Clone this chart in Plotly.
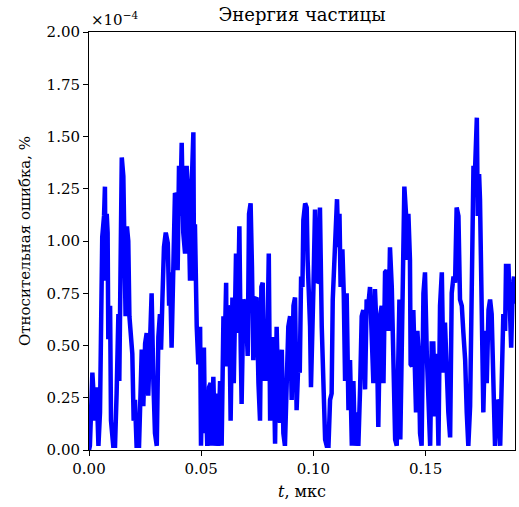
import plotly.graph_objects as go

# time, microseconds
t_us = [
    0.0000, 0.0004, 0.0015, 0.0027, 0.0034, 0.0042, 0.0049, 0.0056, 0.0059, 0.0067,
    0.0071, 0.0074, 0.0079, 0.0083, 0.0086, 0.0094, 0.0098, 0.0108, 0.0116, 0.0123,
    0.0131, 0.0135, 0.0141, 0.0146, 0.0153, 0.0157, 0.0163, 0.0169, 0.0175, 0.0180,
    0.0186, 0.0193, 0.0199, 0.0205, 0.0212, 0.0223, 0.0235, 0.0242, 0.0250, 0.0257,
    0.0264, 0.0272, 0.0279, 0.0287, 0.0294, 0.0302, 0.0309, 0.0316, 0.0321, 0.0327,
    0.0334, 0.0342, 0.0351, 0.0357, 0.0361, 0.0368, 0.0376, 0.0383, 0.0391, 0.0395,
    0.0401, 0.0406, 0.0413, 0.0420, 0.0428, 0.0435, 0.0443, 0.0450, 0.0458, 0.0465,
    0.0468, 0.0472, 0.0480, 0.0487, 0.0495, 0.0499, 0.0507, 0.0512, 0.0517, 0.0521,
    0.0527, 0.0535, 0.0542, 0.0547, 0.0554, 0.0561, 0.0569, 0.0576, 0.0584, 0.0591,
    0.0599, 0.0603, 0.0611, 0.0613, 0.0618, 0.0625, 0.0631, 0.0639, 0.0645, 0.0651,
    0.0655, 0.0662, 0.0670, 0.0676, 0.0680, 0.0688, 0.0695, 0.0703, 0.0707, 0.0713,
    0.0720, 0.0726, 0.0732, 0.0740, 0.0747, 0.0755, 0.0762, 0.0768, 0.0774, 0.0780,
    0.0784, 0.0792, 0.0801, 0.0807, 0.0814, 0.0821, 0.0829, 0.0836, 0.0844, 0.0851,
    0.0859, 0.0866, 0.0873, 0.0881, 0.0888, 0.0896, 0.0903, 0.0911, 0.0918, 0.0925,
    0.0933, 0.0939, 0.0945, 0.0951, 0.0955, 0.0963, 0.0970, 0.0974, 0.0980, 0.0985,
    0.0989, 0.0995, 0.1000, 0.1007, 0.1015, 0.1022, 0.1029, 0.1037, 0.1044, 0.1052,
    0.1059, 0.1067, 0.1074, 0.1081, 0.1086, 0.1093, 0.1099, 0.1105, 0.1111, 0.1116,
    0.1121, 0.1129, 0.1135, 0.1141, 0.1148, 0.1156, 0.1163, 0.1171, 0.1178, 0.1185,
    0.1193, 0.1200, 0.1208, 0.1215, 0.1222, 0.1230, 0.1237, 0.1245, 0.1252, 0.1260,
    0.1267, 0.1274, 0.1282, 0.1289, 0.1297, 0.1304, 0.1312, 0.1319, 0.1326, 0.1334,
    0.1341, 0.1349, 0.1356, 0.1364, 0.1371, 0.1378, 0.1383, 0.1387, 0.1393, 0.1401,
    0.1405, 0.1413, 0.1419, 0.1423, 0.1430, 0.1433, 0.1439, 0.1445, 0.1451, 0.1457,
    0.1463, 0.1469, 0.1475, 0.1482, 0.1490, 0.1497, 0.1505, 0.1512, 0.1520, 0.1527,
    0.1534, 0.1542, 0.1549, 0.1557, 0.1564, 0.1572, 0.1579, 0.1586, 0.1594, 0.1601,
    0.1609, 0.1616, 0.1624, 0.1631, 0.1638, 0.1646, 0.1653, 0.1661, 0.1668, 0.1676,
    0.1683, 0.1690, 0.1698, 0.1705, 0.1713, 0.1720, 0.1728, 0.1732, 0.1738, 0.1742,
    0.1747, 0.1751, 0.1757, 0.1765, 0.1772, 0.1780, 0.1787, 0.1794, 0.1802, 0.1809,
    0.1817, 0.1824, 0.1832, 0.1839, 0.1846, 0.1854, 0.1858, 0.1869, 0.1876, 0.1881,
    0.1888, 0.1894, 0.1898,
]

# relative energy error, units of 1e-4 %
err_e4 = [
    0.00, 0.02, 0.37, 0.14, 0.30, 0.02, 0.18, 0.72, 1.02, 1.12,
    1.26, 0.81, 1.13, 1.04, 0.53, 0.69, 0.14, 0.02, 0.02, 0.27,
    0.65, 0.33, 0.88, 1.40, 1.31, 1.00, 0.64, 1.07, 1.00, 0.64,
    0.53, 0.46, 0.14, 0.24, 0.02, 0.02, 0.48, 0.21, 0.51, 0.56,
    0.26, 0.46, 0.75, 0.32, 0.08, 0.02, 0.54, 0.65, 0.48, 0.72,
    0.97, 1.04, 0.99, 0.69, 0.85, 0.49, 0.91, 1.23, 1.21, 0.86,
    1.36, 1.12, 1.47, 1.04, 0.94, 1.36, 1.20, 0.81, 1.28, 1.52,
    0.81, 1.08, 0.59, 0.41, 0.59, 0.02, 0.46, 0.49, 0.08, 0.24,
    0.02, 0.30, 0.32, 0.02, 0.35, 0.02, 0.27, 0.02, 0.33, 0.02,
    0.64, 0.40, 0.80, 0.40, 0.69, 0.67, 0.14, 0.73, 0.32, 0.77,
    0.94, 0.56, 1.07, 0.48, 0.22, 0.72, 0.70, 0.56, 0.45, 1.13,
    1.18, 0.88, 0.43, 0.72, 0.73, 0.32, 0.14, 0.78, 0.80, 0.33,
    0.62, 0.33, 0.94, 0.14, 0.40, 0.54, 0.03, 0.59, 0.24, 0.13,
    0.48, 0.08, 0.02, 0.35, 0.59, 0.64, 0.24, 0.69, 0.73, 0.19,
    0.43, 0.37, 0.83, 0.78, 1.10, 1.18, 1.16, 0.91, 0.75, 0.59,
    0.30, 0.72, 0.78, 1.15, 0.80, 0.81, 1.16, 0.59, 0.29, 0.05,
    0.02, 0.02, 0.24, 0.27, 0.72, 0.96, 1.16, 1.20, 0.97, 1.13,
    0.78, 0.96, 0.75, 0.33, 0.75, 0.19, 0.43, 0.02, 0.33, 0.02,
    0.18, 0.02, 0.30, 0.64, 0.67, 0.29, 0.72, 0.70, 0.78, 0.46,
    0.32, 0.77, 0.56, 0.11, 0.64, 0.69, 0.32, 0.85, 0.86, 0.57,
    0.97, 0.78, 0.46, 0.05, 0.02, 0.32, 0.72, 0.05, 0.45, 0.95,
    1.26, 1.12, 0.91, 1.13, 0.91, 0.41, 0.40, 0.67, 0.27, 0.18,
    0.57, 0.46, 0.08, 0.02, 0.75, 0.85, 0.46, 0.21, 0.02, 0.51,
    0.51, 0.16, 0.46, 0.02, 0.69, 0.85, 0.37, 0.61, 0.33, 0.18,
    0.06, 0.75, 0.83, 0.80, 1.16, 1.12, 0.72, 0.69, 0.56, 0.43,
    0.18, 0.02, 0.21, 0.80, 1.36, 1.34, 1.59, 1.12, 1.32, 1.20,
    0.88, 0.69, 0.18, 0.57, 0.32, 0.67, 0.72, 0.65, 0.30, 0.02,
    0.24, 0.22, 0.02, 0.40, 0.65, 0.57, 0.88, 0.88, 0.56, 0.49,
    0.78, 0.83, 0.70,
]

x_ticks = [0.00, 0.05, 0.10, 0.15]
y_ticks = [0.00, 0.25, 0.50, 0.75, 1.00, 1.25, 1.50, 1.75, 2.00]

FONT = "DejaVu Serif"

fig = go.Figure()
fig.add_trace(go.Scatter(
    x=t_us, y=err_e4, mode="lines",
    line=dict(color="#0000ff", width=4.5),
    showlegend=False, hoverinfo="skip",
))

axis_common = dict(
    showline=True, linecolor="black", linewidth=1, mirror=True,
    ticks="outside", ticklen=5, tickwidth=1, tickcolor="black",
    showgrid=False, zeroline=False,
    tickfont=dict(family=FONT, size=15, color="black"),
)

fig.update_layout(
    width=519, height=507,
    margin=dict(l=89, r=4, t=32, b=57),
    plot_bgcolor="white", paper_bgcolor="white",
    font=dict(family=FONT, size=15, color="black"),
    title=dict(text="Энергия частицы", x=0.5, xref="paper", y=1 - 15 / 507, yref="container",
               xanchor="center", yanchor="middle", font=dict(family=FONT, size=18)),
    xaxis=dict(range=[0, 0.1898], tickvals=x_ticks, tickformat=".2f",
               title=dict(text="<i>t</i>, мкс", standoff=8, font=dict(family=FONT, size=16)),
               **axis_common),
    yaxis=dict(range=[0, 2.0], tickvals=y_ticks, tickformat=".2f",
               title=dict(text="Относительная ошибка, %", standoff=12, font=dict(family=FONT, size=15)),
               **axis_common),
    annotations=[dict(text="×10<sup>−4</sup>", xref="paper", yref="paper", x=0, y=1,
                      xanchor="left", yanchor="bottom", showarrow=False, yshift=1,
                      font=dict(family=FONT, size=15))],
)

fig.write_html("out.html", config={"displayModeBar": False},
               post_script="document.body.style.margin='0';document.body.style.padding='0';")
